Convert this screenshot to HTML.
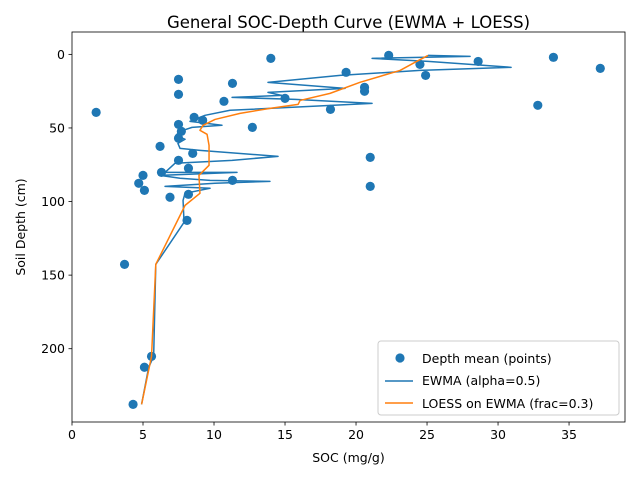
<!DOCTYPE html>
<html><head><meta charset="utf-8"><style>body{margin:0;background:#fff}svg{display:block;font-family:"DejaVu Sans","Liberation Sans",sans-serif}</style></head>
<body>
<svg id="chart" width="640" height="480" xmlns="http://www.w3.org/2000/svg"></svg>
<script>
const pointSoc=[22.3,14.0,33.9,28.6,24.5,37.2,19.3,24.9,7.5,11.3,20.6,20.6,7.5,15.0,10.7,32.8,18.2,1.7,8.6,9.2,7.5,12.7,7.7,7.5,6.2,8.5,7.5,21,8.2,6.3,5.0,11.3,4.7,5.1,21,8.2,6.9,8.1,3.7,5.6,5.1,4.3];
const pointDepth=[0.7,2.7,2,4.8,6.8,9.5,12.2,14.3,17,19.7,22.4,25.1,27.2,29.9,31.9,34.6,37.4,39.4,42.8,44.8,47.6,49.6,52.3,57,62.5,67.3,72,70,77.4,80.2,82.2,85.6,87.6,92.4,89.7,95.1,97.1,112.8,142.7,205.2,212.6,237.8];
const ewmaSoc=[25.07,28.03,21.13,25.07,30.92,24.51,18.87,13.80,19.23,13.80,14.79,11.27,15.70,21.13,15.35,11.13,9.37,8.31,10.56,8.45,7.61,7.32,7.96,7.46,7.61,9.01,14.51,11.27,7.25,6.55,11.62,6.20,7.61,9.72,13.94,10.07,6.55,9.72,7.96,7.82,7.89,5.9,5.75,5.4,4.9];
const ewmaDepth=[0.7,1.4,2.7,4.8,8.8,10.9,14.3,19.0,23.1,25.8,27.9,29.2,30.6,33.3,36.0,38.0,41.4,45.5,48.2,49.6,52.3,55.0,57.7,60.5,63.9,65.2,69.3,72.0,74.0,80.2,80.2,82.2,84.2,85.6,86.3,87.6,89.7,91.0,94.4,99.2,114.1,142.7,205.2,212.6,237.8];
const loessSoc=[25.07,24.15,23.1,20.28,18.17,16.06,15.92,13.94,11.83,10.07,9.23,9.01,9.51,9.65,9.65,8.94,9.01,7.96,5.9,5.6,4.9];
const loessDepth=[0.7,5.4,10.9,19,26.5,31.3,34,36.7,40.1,44.2,48.2,51.6,54.3,61.8,75.4,82.2,94.4,102.6,142.7,205.2,237.8];
const xTicks=[0,5,10,15,20,25,30,35];
const yTicks=[0,50,100,150,200];

const L=72,R=625,T=32,B=422,X0=0,X1=38.94,Y0=-15.2,Y1=249.8;
const sx=v=>L+(v-X0)/(X1-X0)*(R-L);
const sy=v=>T+(v-Y0)/(Y1-Y0)*(B-T);
const svg=document.getElementById('chart');
const NS='http://www.w3.org/2000/svg';
function mk(tag,attrs,parent){const e=document.createElementNS(NS,tag);for(const k in attrs)e.setAttribute(k,attrs[k]);(parent||svg).appendChild(e);return e;}

let t=mk('text',{x:(L+R)/2,y:28,'text-anchor':'middle','font-size':'16.5'});t.textContent='General SOC-Depth Curve (EWMA + LOESS)';



const pts=mk('g',{});


pointSoc.forEach((v,i)=>{const c=mk('circle',{cx:sx(v),cy:sy(pointDepth[i]),r:4.6,fill:'#1f77b4'},pts);

});

let e=mk('polyline',{points:ewmaSoc.map((v,i)=>sx(v)+','+sy(ewmaDepth[i])).join(' '),fill:'none',stroke:'#1f77b4','stroke-width':1.5,'stroke-linejoin':'round'});


let lo=mk('polyline',{points:loessSoc.map((v,i)=>sx(v)+','+sy(loessDepth[i])).join(' '),fill:'none',stroke:'#ff7f0e','stroke-width':1.5,'stroke-linejoin':'round'});



let fr=mk('rect',{x:L,y:T,width:R-L,height:B-T,fill:'none',stroke:'#000','stroke-width':0.8});



xTicks.forEach(v=>{mk('line',{x1:sx(v),x2:sx(v),y1:B,y2:B+3.5,stroke:'#000','stroke-width':0.8});
const tx=mk('text',{x:sx(v),y:B+17,'text-anchor':'middle','font-size':'12.5'});tx.textContent=v;

});
yTicks.forEach(v=>{mk('line',{x1:L-3.5,x2:L,y1:sy(v),y2:sy(v),stroke:'#000','stroke-width':0.8});
const ty=mk('text',{x:L-7,y:sy(v)+4.5,'text-anchor':'end','font-size':'12.5'});ty.textContent=v;

});

let xl=mk('text',{x:(L+R)/2,y:462,'text-anchor':'middle','font-size':'12.5'});xl.textContent='SOC (mg/g)';


let yl=mk('text',{x:0,y:0,'text-anchor':'middle','font-size':'12.5',transform:`translate(25,${(T+B)/2}) rotate(-90)`});yl.textContent='Soil Depth (cm)';



const lg=mk('g',{});


mk('rect',{x:378,y:341,width:241,height:74,rx:3,fill:'#fff','fill-opacity':0.8,stroke:'#ccc'},lg);
mk('circle',{cx:400,cy:358,r:4.6,fill:'#1f77b4'},lg);
mk('line',{x1:385,x2:413,y1:381,y2:381,stroke:'#1f77b4','stroke-width':1.5},lg);
mk('line',{x1:385,x2:413,y1:403,y2:403,stroke:'#ff7f0e','stroke-width':1.5},lg);
[['Depth mean (points)',363,'legend-entry-points'],['EWMA (alpha=0.5)',385,'legend-entry-ewma'],['LOESS on EWMA (frac=0.3)',408,'legend-entry-loess']].forEach(a=>{
const lt=mk('text',{x:422,y:a[1],'font-size':'12.5'},lg);lt.textContent=a[0];

});
</script>
</body></html>
